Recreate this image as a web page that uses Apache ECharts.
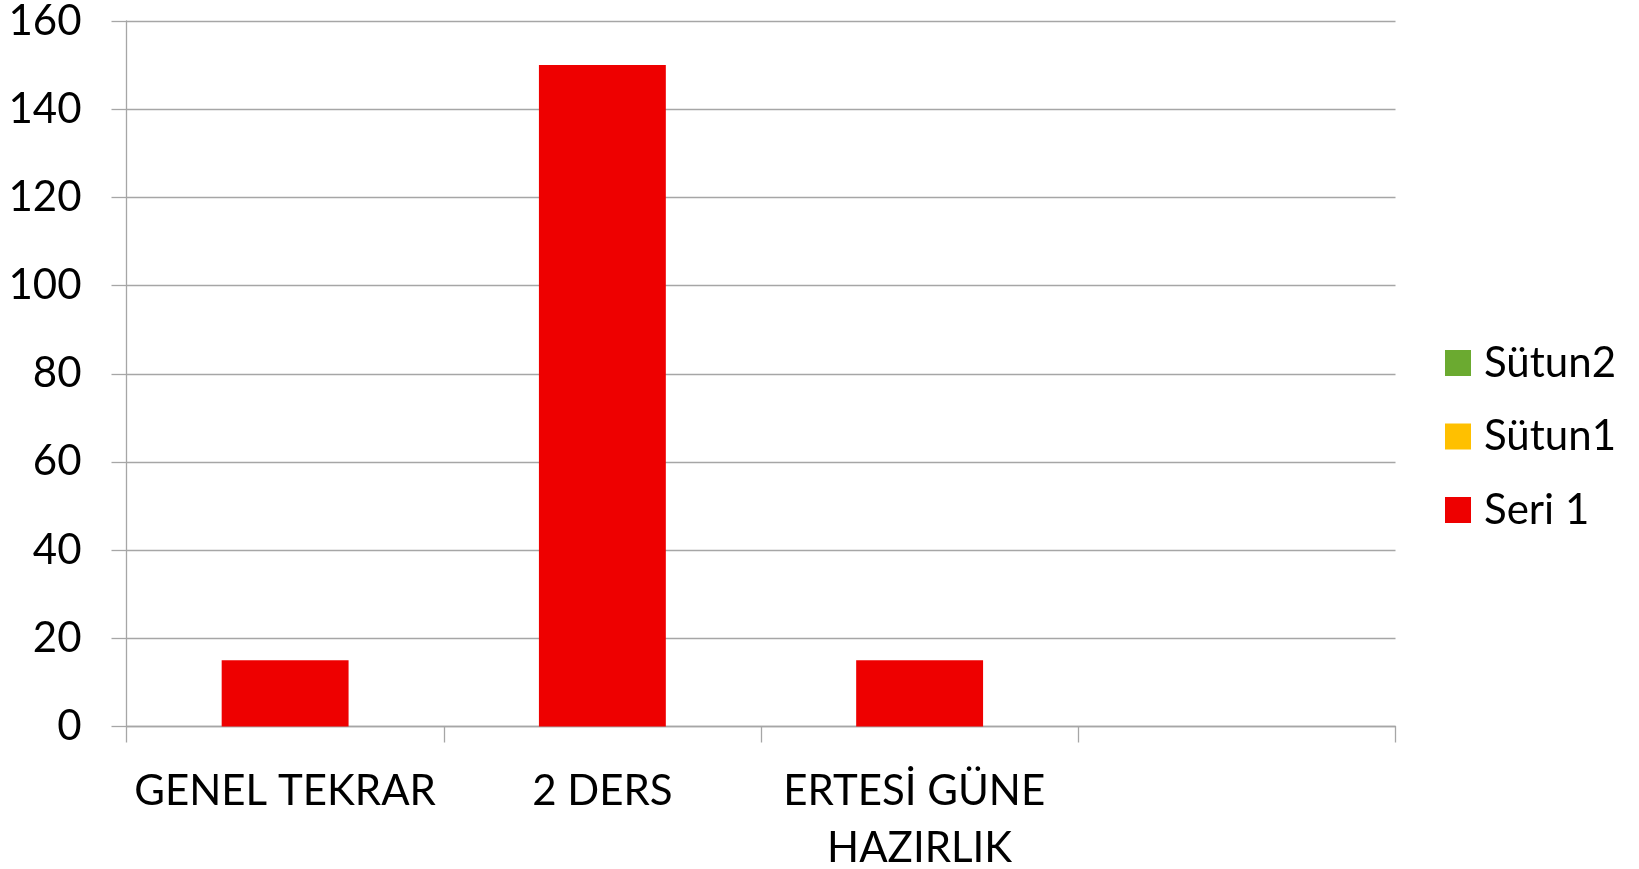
<!DOCTYPE html>
<html>
<head>
<meta charset="utf-8">
<script src="https://cdn.jsdelivr.net/npm/echarts@6/dist/echarts.min.js"></script>
<style>html,body{margin:0;padding:0;background:#fff}#c{width:1639px;height:869px}</style>
</head>
<body>
<div id="c"></div>
<script>
var categories = ['GENEL TEKRAR', '2 DERS', 'ERTESİ GÜNE HAZIRLIK', ''];
var seri1 = [15, 150, 15, null];
var sutun1 = [];
var sutun2 = [];
var yTicks = [0, 20, 40, 60, 80, 100, 120, 140, 160];

var FONT = 'Lato';
var chart = echarts.init(document.getElementById('c'), null, {renderer: 'canvas'});
chart.setOption({
  animation: false,
  backgroundColor: '#ffffff',
  textStyle: {fontFamily: FONT},
  grid: {left: 126.5, right: 243.5, top: 21, bottom: 142.5, containLabel: false, outerBoundsMode: 'none'},
  legend: {
    orient: 'vertical',
    left: 1440,
    top: 333,
    itemWidth: 26,
    itemHeight: 26,
    itemGap: 23.5,
    icon: 'rect',
    data: ['Sütun2', 'Sütun1', 'Seri 1'],
    textStyle: {fontFamily: FONT, fontSize: 42, color: '#000', lineHeight: 50, padding: [0, 0, 0, 8]}
  },
  xAxis: {
    type: 'category',
    data: categories,
    axisLine: {lineStyle: {color: '#A6A6A6', width: 1.3}},
    axisTick: {show: true, length: 16, lineStyle: {color: '#A6A6A6', width: 1.3}},
    axisLabel: {
      color: '#000', fontFamily: FONT, fontSize: 42, lineHeight: 57, margin: 36,
      interval: 0, width: 320, overflow: 'break'
    }
  },
  yAxis: {
    type: 'value',
    min: 0, max: 160, interval: 20,
    axisLine: {show: true, lineStyle: {color: '#A6A6A6', width: 1.3}},
    axisTick: {show: true, length: 15, lineStyle: {color: '#A6A6A6', width: 1.3}},
    splitLine: {show: true, lineStyle: {color: '#A6A6A6', width: 1.3}},
    axisLabel: {
      color: '#000', fontFamily: FONT, fontSize: 42, margin: 45,
      formatter: function (v) { return yTicks.indexOf(v) >= 0 ? String(v) : ''; }
    }
  },
  series: [
    {name: 'Seri 1', type: 'bar', stack: 's', data: seri1, barWidth: '40%', itemStyle: {color: '#EE0000'}},
    {name: 'Sütun1', type: 'bar', stack: 's', data: sutun1, itemStyle: {color: '#FFC000'}},
    {name: 'Sütun2', type: 'bar', stack: 's', data: sutun2, itemStyle: {color: '#6BAA30'}}
  ]
});
</script>
</body>
</html>
